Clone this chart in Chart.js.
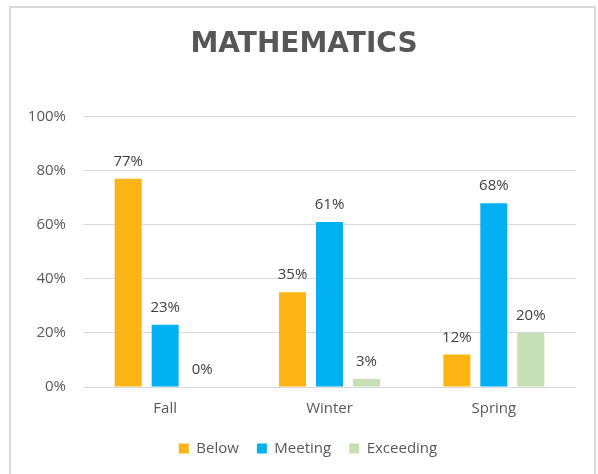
<!DOCTYPE html>
<html>
<head>
<meta charset="utf-8">
<script src="https://cdn.jsdelivr.net/npm/chart.js@4/dist/chart.umd.min.js"></script>
<style>
  html, body { margin: 0; padding: 0; background: #ffffff; }
  #wrap { position: relative; width: 598px; height: 474px; overflow: hidden; }
  #frame { position: absolute; left: 9px; top: 6px; width: 587px; height: 480px; border: 2px solid #d9d9d9; box-sizing: border-box; }
  canvas { position: absolute; left: 0; top: 0; }
</style>
</head>
<body>
<div id="wrap">
  <div id="frame"></div>
  <canvas id="c" width="598" height="474"></canvas>
</div>
<script>
const categories = ["Fall", "Winter", "Spring"];
const seriesNames = ["Below", "Meeting", "Exceeding"];
const below = [77, 35, 12];
const meeting = [23, 61, 68];
const exceeding = [0, 3, 20];
const yTicks = [0, 20, 40, 60, 80, 100];
const colors = ["#FDB515", "#00B0F0", "#C5E0B4"];

const labelFont = "'Open Sans', 'Noto Sans', sans-serif";

const dataLabels = {
  id: 'dataLabels',
  afterDatasetsDraw(chart) {
    const ctx = chart.ctx;
    ctx.save();
    ctx.font = "15px " + labelFont;
    ctx.fillStyle = "#404040";
    ctx.textAlign = "center";
    ctx.textBaseline = "alphabetic";
    chart.data.datasets.forEach((ds, i) => {
      const meta = chart.getDatasetMeta(i);
      meta.data.forEach((el, j) => {
        ctx.fillText(ds.data[j] + "%", el.x, el.y - 13);
      });
    });
    ctx.restore();
  }
};

// nudge title and legend to match the reference placement
const boxNudge = {
  id: 'boxNudge',
  afterLayout(chart) {
    if (chart.titleBlock) { chart.titleBlock.left += 16; chart.titleBlock.right += 16; }
    if (chart.legend) {
      chart.legend.left += 20; chart.legend.right += 20;
      chart.legend.top -= 8; chart.legend.bottom -= 8;
    }
  }
};

new Chart(document.getElementById('c'), {
  type: 'bar',
  data: {
    labels: categories,
    datasets: [
      { label: seriesNames[0], data: below, backgroundColor: colors[0] },
      { label: seriesNames[1], data: meeting, backgroundColor: colors[1] },
      { label: seriesNames[2], data: exceeding, backgroundColor: colors[2] }
    ]
  },
  options: {
    responsive: false,
    animation: false,
    devicePixelRatio: 1,
    categoryPercentage: 0.675,
    barPercentage: 0.73,
    layout: { padding: { left: 0, right: 22, top: 0, bottom: 0 } },
    plugins: {
      title: {
        display: true,
        text: "MATHEMATICS",
        color: "#575757",
        font: { family: "'DejaVu Sans', sans-serif", size: 28, weight: 'bold', lineHeight: 1.2 },
        padding: { top: 28, bottom: 55 }
      },
      legend: {
        position: 'bottom',
        labels: {
          color: "#595959",
          font: { family: labelFont, size: 15 },
          boxWidth: 10,
          boxHeight: 10,
          padding: 18
        }
      },
      tooltip: { enabled: false }
    },
    scales: {
      x: {
        grid: { display: false, drawTicks: false },
        border: { display: false },
        ticks: { color: "#595959", font: { family: labelFont, size: 15 }, padding: 13 }
      },
      y: {
        min: 0,
        max: 100,
        afterFit(scale) { scale.width = 83; },
        afterBuildTicks(scale) { scale.ticks = yTicks.map(v => ({ value: v })); },
        grid: { color: "#d9d9d9", lineWidth: 1, drawTicks: false },
        border: { display: false },
        ticks: {
          color: "#595959",
          font: { family: labelFont, size: 15 },
          padding: 17,
          callback: v => v + "%"
        }
      }
    }
  },
  plugins: [dataLabels, boxNudge]
});
</script>
</body>
</html>
